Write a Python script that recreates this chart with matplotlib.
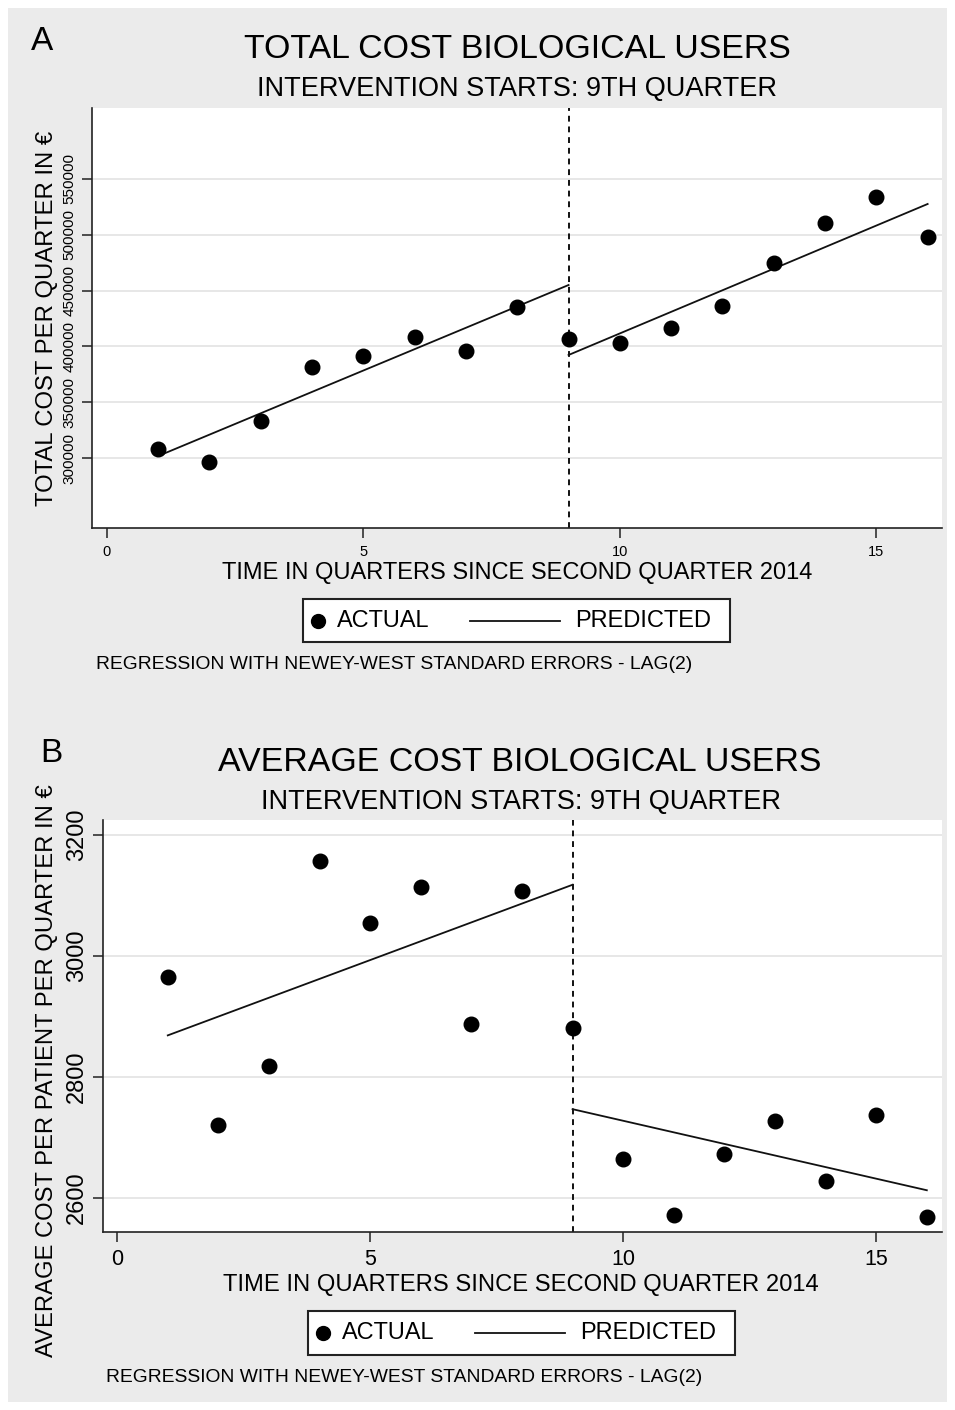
import matplotlib
matplotlib.use("Agg")
import matplotlib.pyplot as plt
from matplotlib.patches import Rectangle
from matplotlib.lines import Line2D

plt.rcParams['font.family'] = ['Liberation Sans', 'DejaVu Sans']

# ---------------- data ----------------
quarters = list(range(1, 17))
total_actual = [308000, 296400, 333000, 381500, 391400, 408400, 395900, 435300,
                406600, 403000, 416500, 436200, 474700, 510600, 533900, 498000]
total_pred_pre_x = [1, 9]
total_pred_pre_y = [301800, 455000]
total_pred_post_x = [9, 16]
total_pred_post_y = [392300, 527600]

avg_actual = [2966, 2721, 2819, 3157, 3054, 3114, 2888, 3107,
              2881, 2664, 2572, 2673, 2728, 2628, 2738, 2569]
avg_pred_pre_x = [1, 9]
avg_pred_pre_y = [2869, 3118]
avg_pred_post_x = [9, 16]
avg_pred_post_y = [2747, 2613]

intervention = 9
x_ticks = [0, 5, 10, 15]
total_yticks = [300000, 350000, 400000, 450000, 500000, 550000]
avg_yticks = [2600, 2800, 3000, 3200]

W, H = 955, 1410
fig = plt.figure(figsize=(W / 100, H / 100), dpi=100, facecolor='white')
fig.patches.append(Rectangle((8 / W, 8 / H), (W - 16) / W, (H - 16) / H,
                             transform=fig.transFigure, facecolor='#ebebeb',
                             edgecolor='none', zorder=-10))

texts_to_fit = []


def ftext(x, y, s, target_w=None, target_h=None, size=14, **kw):
    t = fig.text(x / W, 1 - y / H, s, fontsize=size, **kw)
    texts_to_fit.append((t, target_w, target_h))
    return t


def make_panel(rect, xlim, ylim, actual, pre_x, pre_y, post_x, post_y, yticks,
               ytick_size, xtick_size):
    l, t, r, b = rect
    ax = fig.add_axes([l / W, 1 - b / H, (r - l) / W, (b - t) / H])
    ax.set_facecolor('white')
    ax.set_xlim(*xlim)
    ax.set_ylim(*ylim)
    ax.set_yticks(yticks)
    ax.set_xticks(x_ticks)
    ax.grid(axis='y', color='#e3e3e3', linewidth=1.2)
    ax.set_axisbelow(True)
    for s in ['top', 'right']:
        ax.spines[s].set_visible(False)
    for s in ['left', 'bottom']:
        ax.spines[s].set_linewidth(1.2)
        ax.spines[s].set_color('#222222')
    ax.tick_params(axis='both', direction='out', length=7, width=1.1, color='#222222')
    ax.tick_params(axis='x', labelsize=xtick_size, pad=5)
    ax.tick_params(axis='y', labelsize=ytick_size, pad=4)
    for lab in ax.get_yticklabels():
        lab.set_rotation(90)
        lab.set_va('center')
    ax.axvline(intervention, color='#111111', linestyle=(0, (3, 2.5)), linewidth=1.4)
    ax.scatter(quarters, actual, s=110, color='black', zorder=3)
    ax.plot(pre_x, pre_y, color='#111111', linewidth=1.3)
    ax.plot(post_x, post_y, color='#111111', linewidth=1.3)
    return ax


def legend_box(x0, y0, x1, y1, marker_x, act_x, line_x0, line_x1, pred_x, act_w, pred_w):
    ym = (y0 + y1) / 2
    fig.patches.append(Rectangle((x0 / W, 1 - y1 / H), (x1 - x0) / W, (y1 - y0) / H,
                                 transform=fig.transFigure, facecolor='white',
                                 edgecolor='#222222', linewidth=1.5))
    fig.lines.append(Line2D([marker_x / W], [1 - ym / H], marker='o', markersize=10,
                            color='black', linestyle='none', transform=fig.transFigure))
    fig.lines.append(Line2D([line_x0 / W, line_x1 / W], [1 - ym / H, 1 - ym / H],
                            color='#111111', linewidth=1.3, transform=fig.transFigure))
    ftext(act_x, ym, 'ACTUAL', target_w=act_w, ha='left', va='center')
    ftext(pred_x, ym, 'PREDICTED', target_w=pred_w, ha='left', va='center')


# ---------------- Panel A ----------------
axA = make_panel((92, 108, 942, 528), (-0.29, 16.28), (237300, 613600),
                 total_actual, total_pred_pre_x, total_pred_pre_y,
                 total_pred_post_x, total_pred_post_y, total_yticks, 11, 10.5)
axA.set_yticklabels([str(v) for v in total_yticks])

ftext(42.5, 41, 'A', target_h=24, size=24, ha='center', va='center')
ftext(517, 50, 'TOTAL COST BIOLOGICAL USERS', target_w=547, ha='center', va='center')
ftext(517, 89, 'INTERVENTION STARTS: 9TH QUARTER', target_w=519, ha='center', va='center')
ftext(517, 573, 'TIME IN QUARTERS SINCE SECOND QUARTER 2014', target_w=594, ha='center', va='center')
ftext(47, 318, 'TOTAL COST PER QUARTER IN €', target_h=375, rotation=90, ha='center', va='center')
legend_box(303, 599, 730, 642, 318, 337, 470, 560, 575, 93, 137)
ftext(96, 665, 'REGRESSION WITH NEWEY-WEST STANDARD ERRORS - LAG(2)', target_w=596,
      ha='left', va='center')

# ---------------- Panel B ----------------
axB = make_panel((103, 820, 942, 1232), (-0.28, 16.3), (2544, 3225),
                 avg_actual, avg_pred_pre_x, avg_pred_pre_y,
                 avg_pred_post_x, avg_pred_post_y, avg_yticks, 17, 15.5)
axB.set_yticklabels([str(v) for v in avg_yticks])

ftext(51, 753.5, 'B', size=24, ha='center', va='center')
ftext(520, 763, 'AVERAGE COST BIOLOGICAL USERS', target_w=605, ha='center', va='center')
ftext(521, 802, 'INTERVENTION STARTS: 9TH QUARTER', target_w=519, ha='center', va='center')
ftext(521, 1285, 'TIME IN QUARTERS SINCE SECOND QUARTER 2014', target_w=595, ha='center', va='center')
ftext(47, 1071, 'AVERAGE COST PER PATIENT PER QUARTER IN €', target_h=572, rotation=90,
      ha='center', va='center')
legend_box(308, 1311, 735, 1355, 323, 342, 475, 565, 580, 93, 137)
ftext(106, 1378, 'REGRESSION WITH NEWEY-WEST STANDARD ERRORS - LAG(2)', target_w=596,
      ha='left', va='center')

# fit text sizes to measured widths
fig.canvas.draw()
r = fig.canvas.get_renderer()
for t, tw, th in texts_to_fit:
    if tw is None and th is None:
        continue
    if t.get_text() in ('A', 'B'):
        continue
    bb = t.get_window_extent(renderer=r)
    if tw is not None:
        t.set_fontsize(t.get_fontsize() * tw / bb.width)
    else:
        t.set_fontsize(t.get_fontsize() * th / bb.height)

fig.savefig('out.png', dpi=100, facecolor='white')
